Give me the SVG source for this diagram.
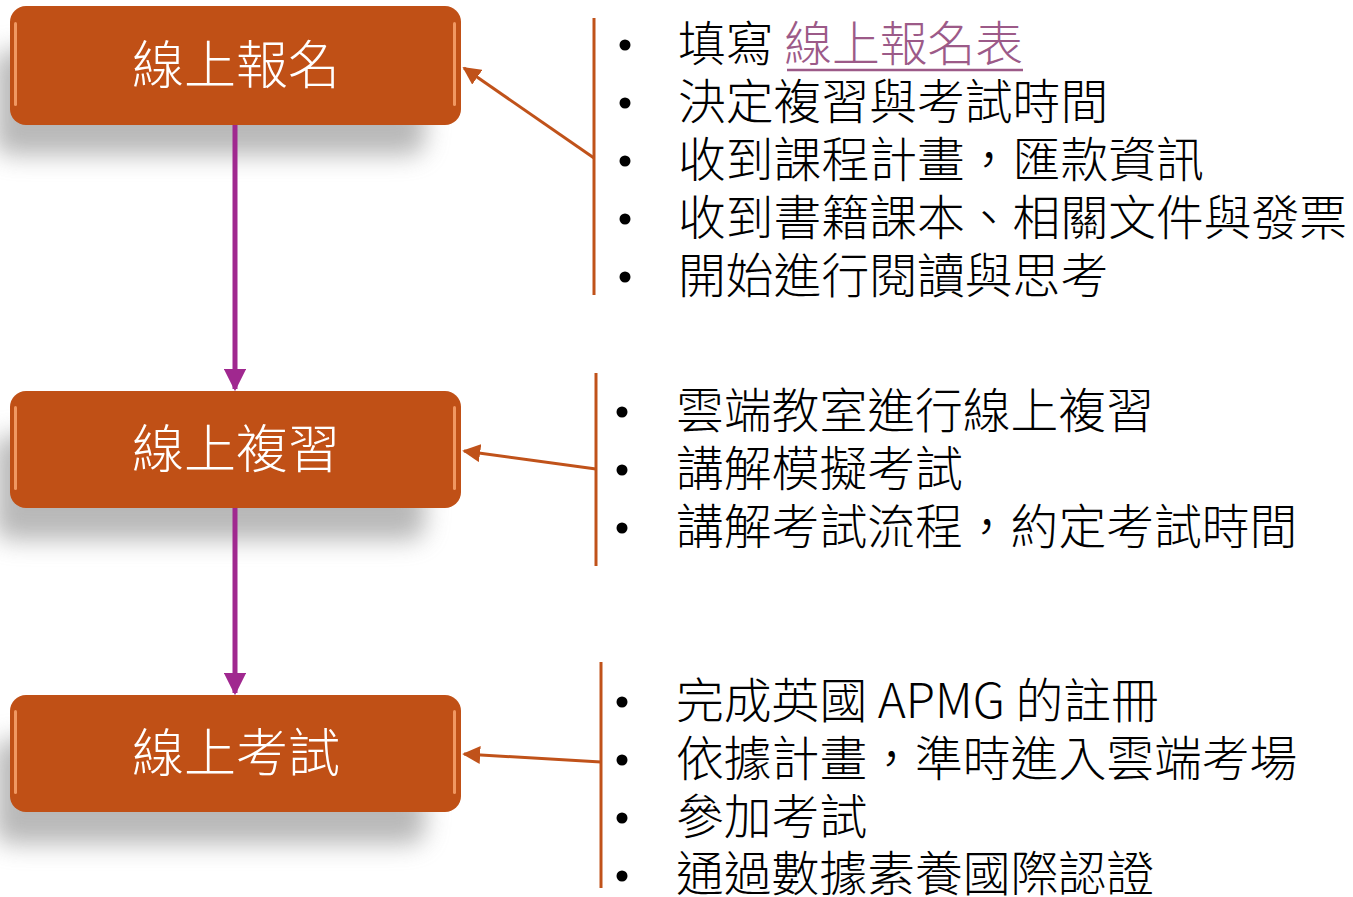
<svg xmlns="http://www.w3.org/2000/svg" width="1353" height="897" viewBox="0 0 1353 897">
<defs>
<style>
.box{fill:#C05016;}
.btxt{font-family:"Noto Sans CJK TC","Noto Sans",sans-serif;font-size:52px;font-weight:300;fill:#FFFFFF;text-anchor:middle;}
.t{font-family:"Noto Sans CJK TC","Noto Sans",sans-serif;font-size:47.8px;font-weight:300;fill:#000000;}
.link{fill:#9C5A88;}
.br{stroke:#C0521A;stroke-width:3;fill:none;}
.ar{stroke:#C0521A;stroke-width:3;fill:none;}
.va{stroke:#A0288F;stroke-width:5;fill:none;}
.shine{fill:#F5A06A;opacity:0.9;}
</style>
<filter id="sh" x="-20%" y="-50%" width="140%" height="200%">
<feGaussianBlur stdDeviation="12"/>
</filter>
<marker id="ma" viewBox="0 0 10 10" refX="9" refY="5" markerWidth="6" markerHeight="6" orient="auto" markerUnits="strokeWidth">
<path d="M0,0 L10,5 L0,10 z" fill="#C0521A"/>
</marker>
<marker id="mv" viewBox="0 0 10 10" refX="9" refY="5" markerWidth="4.5" markerHeight="4.5" orient="auto" markerUnits="strokeWidth">
<path d="M0,0 L10,5 L0,10 z" fill="#A0288F"/>
</marker>
</defs>
<rect width="1353" height="897" fill="#FFFFFF"/>

<g id="shadows" fill="#8a8a8a" opacity="0.6" filter="url(#sh)">
<rect x="-5" y="50" width="430" height="105" rx="15"/>
<rect x="-5" y="435" width="430" height="105" rx="15"/>
<rect x="-5" y="739" width="430" height="105" rx="15"/>
</g>

<g id="connectors">
<line class="va" x1="235" y1="125" x2="235" y2="389" marker-end="url(#mv)"/>
<line class="va" x1="235" y1="508" x2="235" y2="693" marker-end="url(#mv)"/>
<line class="br" x1="594" y1="18" x2="594" y2="295"/>
<line class="ar" x1="594" y1="158" x2="464" y2="68" marker-end="url(#ma)"/>
<line class="br" x1="596" y1="373" x2="596" y2="566"/>
<line class="ar" x1="596" y1="469" x2="464" y2="451" marker-end="url(#ma)"/>
<line class="br" x1="601" y1="662" x2="601" y2="888"/>
<line class="ar" x1="601" y1="762" x2="464" y2="754" marker-end="url(#ma)"/>
</g>

<g id="node1">
<rect class="box" x="10" y="6" width="451" height="119" rx="16"/>
<rect class="shine" x="14" y="22" width="3" height="84" rx="1.5"/>
<rect class="shine" x="453" y="22" width="3" height="84" rx="1.5"/>
<text class="btxt" x="236" y="84">線上報名</text>
</g>
<g id="node2">
<rect class="box" x="10" y="391" width="451" height="117" rx="16"/>
<rect class="shine" x="14" y="406" width="3" height="84" rx="1.5"/>
<rect class="shine" x="453" y="406" width="3" height="84" rx="1.5"/>
<text class="btxt" x="236" y="468">線上複習</text>
</g>
<g id="node3">
<rect class="box" x="10" y="695" width="451" height="117" rx="16"/>
<rect class="shine" x="14" y="710" width="3" height="84" rx="1.5"/>
<rect class="shine" x="453" y="710" width="3" height="84" rx="1.5"/>
<text class="btxt" x="236" y="772">線上考試</text>
</g>

<g id="list1">
<g fill="#000"><circle cx="625" cy="45" r="5.5"/><circle cx="625" cy="103" r="5.5"/><circle cx="625" cy="161" r="5.5"/><circle cx="625" cy="219" r="5.5"/><circle cx="625" cy="277" r="5.5"/></g>
<text class="t" x="678" y="61">填寫 <tspan class="link">線上報名表</tspan></text>
<line x1="787" y1="70" x2="1023" y2="70" stroke="#9C5A88" stroke-width="2.5"/>
<text class="t" x="678" y="119">決定複習與考試時間</text>
<text class="t" x="678" y="177">收到課程計畫，匯款資訊</text>
<text class="t" x="678" y="235">收到書籍課本、相關文件與發票</text>
<text class="t" x="678" y="293">開始進行閱讀與思考</text>
</g>

<g id="list2">
<g fill="#000"><circle cx="622" cy="412" r="5.5"/><circle cx="622" cy="470" r="5.5"/><circle cx="622" cy="528" r="5.5"/></g>
<text class="t" x="676" y="428">雲端教室進行線上複習</text>
<text class="t" x="676" y="486">講解模擬考試</text>
<text class="t" x="676" y="544">講解考試流程，約定考試時間</text>
</g>

<g id="list3">
<g fill="#000"><circle cx="622" cy="702" r="5.5"/><circle cx="622" cy="760" r="5.5"/><circle cx="622" cy="818" r="5.5"/><circle cx="622" cy="876" r="5.5"/></g>
<text class="t" x="676" y="718">完成英國 APMG 的註冊</text>
<text class="t" x="676" y="776">依據計畫，準時進入雲端考場</text>
<text class="t" x="676" y="834">參加考試</text>
<text class="t" x="676" y="891">通過數據素養國際認證</text>
</g>
</svg>
